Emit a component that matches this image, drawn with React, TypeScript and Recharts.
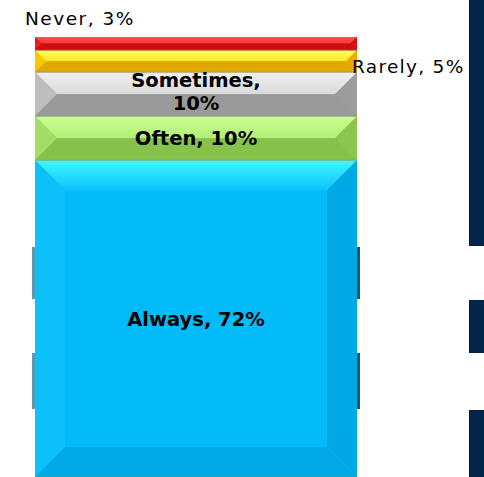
import React from "react";
import { BarChart, Bar, XAxis, YAxis, LabelList } from "recharts";

// one stacked column, shares of answers
const CATEGORIES = ["Always", "Often", "Sometimes", "Rarely", "Never"];
const KEYS = ["always", "often", "sometimes", "rarely", "never"];
const VALUES = [72, 10, 10, 5, 3];
const Y_DOMAIN = [0, 100];

const data = [
  KEYS.reduce((row: Record<string, unknown>, k, i) => {
    row[k] = VALUES[i];
    return row;
  }, { name: "answers" }),
];

const FILLS: Record<string, { base: string; top: string; hi: string; side: string; right: string; bottom: string }> = {
  always: { base: "#04bbfa", top: "#0cc2fc", hi: "#40f8ff", side: "#0cc0fa", right: "#01a9e4", bottom: "#03abe6" },
  often: { base: "#92cf52", top: "#b4ef78", hi: "#c8ff90", side: "#a2de64", right: "#8cc64c", bottom: "#86c24a" },
  sometimes: { base: "#a5a5a5", top: "#dadada", hi: "#efefef", side: "#bdbdbd", right: "#9c9c9c", bottom: "#9a9a9a" },
  rarely: { base: "#f2b600", top: "#ffe82a", hi: "#ffff60", side: "#fbc800", right: "#e8ac00", bottom: "#e0a800" },
  never: { base: "#e01414", top: "#ff3434", hi: "#ff5050", side: "#ea2020", right: "#d41212", bottom: "#c81010" },
};

const FONT = "'DejaVu Sans', sans-serif";

function BevelShape(props: any) {
  const { x, y, width: w, height: h, dataKey } = props;
  const c = FILLS[dataKey];
  if (!c || h <= 0) return null;
  const b = h < 60 ? h / 2 : 30;
  const gid = `top-${dataKey}`;
  return (
    <g>
      <defs>
        <linearGradient id={gid} x1="0" y1="0" x2="0" y2="1">
          <stop offset="0%" stopColor={c.hi} />
          <stop offset="100%" stopColor={c.top} />
        </linearGradient>
      </defs>
      <rect x={x} y={y} width={w} height={h} fill={c.base} />
      <polygon points={`${x},${y} ${x + w},${y} ${x + w - b},${y + b} ${x + b},${y + b}`} fill={`url(#${gid})`} />
      <polygon points={`${x},${y} ${x + b},${y + b} ${x + b},${y + h - b} ${x},${y + h}`} fill={c.side} />
      <polygon points={`${x + w},${y} ${x + w - b},${y + b} ${x + w - b},${y + h - b} ${x + w},${y + h}`} fill={c.right} />
      <polygon points={`${x},${y + h} ${x + w},${y + h} ${x + w - b},${y + h - b} ${x + b},${y + h - b}`} fill={c.bottom} />
      <line x1={x} x2={x + w} y1={y + h} y2={y + h} stroke="#7f8f7f" strokeOpacity={0.5} />
    </g>
  );
}

function makeLabel(name: string) {
  return (p: any) => {
    const { x, y, width: w, height: h, value } = p;
    const txt = `${value}%`;
    const cx = x + w / 2;
    if (name === "Never") {
      return (
        <text x={x - 10} y={y - 12} fontFamily={FONT} fontSize={18.5} letterSpacing={1.5} fill="#000">
          {`${name}, ${txt}`}
        </text>
      );
    }
    if (name === "Rarely") {
      return (
        <text x={x + w - 5} y={y + h / 2 + 12} fontFamily={FONT} fontSize={18.5} letterSpacing={1.3} fill="#000">
          {`${name}, ${txt}`}
        </text>
      );
    }
    if (name === "Sometimes") {
      return (
        <text textAnchor="middle" fontFamily={FONT} fontSize={19.5} fontWeight="bold" fill="#000">
          <tspan x={cx} y={y + 15}>{`${name},`}</tspan>
          <tspan x={cx} y={y + 38}>{txt}</tspan>
        </text>
      );
    }
    return (
      <text x={cx} y={y + h / 2 + 7} textAnchor="middle" fontFamily={FONT} fontSize={19.5} fontWeight="bold" fill="#000">
        {`${name}, ${txt}`}
      </text>
    );
  };
}

const navyBlocks = [
  { top: 0, height: 246 },
  { top: 300, height: 53 },
  { top: 410, height: 67 },
];

const edgeMarks = [
  { left: 32, top: 247, height: 52 },
  { left: 32, top: 353, height: 56 },
  { left: 357, top: 247, height: 52 },
  { left: 357, top: 353, height: 56 },
];

export default function App() {
  return (
    <div style={{ position: "absolute", left: 0, top: 0, width: 484, height: 477, background: "#fff", overflow: "hidden" }}>
      {navyBlocks.map((n, i) => (
        <div key={i} style={{ position: "absolute", left: 469, top: n.top, width: 15, height: n.height, background: "#002548" }} />
      ))}
      {edgeMarks.map((m, i) => (
        <div key={i} style={{ position: "absolute", left: m.left, top: m.top, width: 3, height: m.height, background: i < 2 ? "#5a9ab4" : "#0e5a74" }} />
      ))}
      <div style={{ position: "absolute", left: 0, top: 0 }}>
        <BarChart
          width={484}
          height={477}
          data={data}
          margin={{ top: 37, right: 127, bottom: 0, left: 35 }}
          barCategoryGap={0}
        >
          <XAxis dataKey="name" hide />
          <YAxis hide domain={Y_DOMAIN} />
          {KEYS.map((k, i) => (
            <Bar key={k} dataKey={k} stackId="a" shape={<BevelShape />} isAnimationActive={false}>
              <LabelList dataKey={k} content={makeLabel(CATEGORIES[i])} />
            </Bar>
          ))}
        </BarChart>
      </div>
    </div>
  );
}
